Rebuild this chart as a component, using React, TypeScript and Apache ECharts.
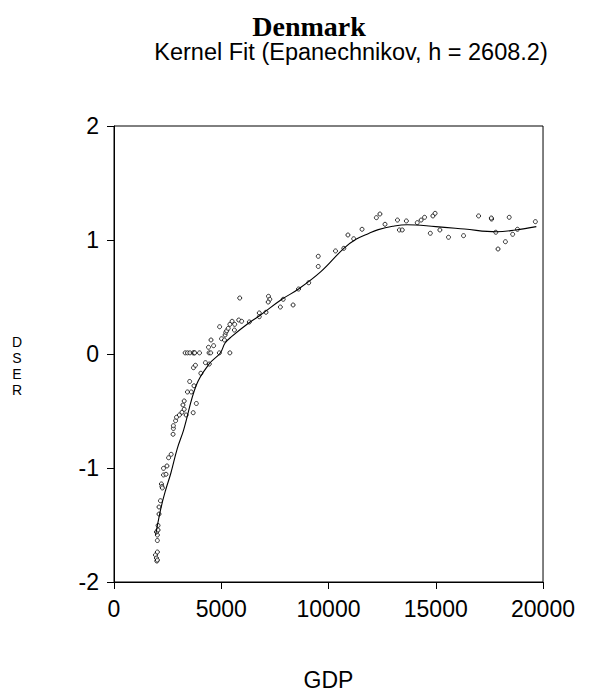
import React, { useEffect, useRef } from "react";
import * as echarts from "echarts";

const titleText = "Denmark";
const subtitleText = "Kernel Fit (Epanechnikov, h = 2608.2)";
const xName = "GDP";
const yName = "DSER";

const xTicks = [0, 5000, 10000, 15000, 20000];
const yTicks = [-2, -1, 0, 1, 2];

// observed points
const gdp = [
  1933, 1978, 1996, 2022, 2022, 2022, 2022, 1978, 2054, 2054, 2098, 2098, 2165, 2210, 2232, 2254,
  2308, 2424, 2308, 2469, 2545, 2665, 2754, 2768, 2768, 2871, 2915, 3049, 3170, 3214, 3272, 3272,
  3362, 3424, 3603, 3527, 3692, 3728, 3839, 4049, 3705, 3795, 4263, 4442,
  3317, 3424, 3540, 3692, 3740, 3763, 3987, 4433, 4509, 4911, 5402,
  4406, 4643, 4522, 4924, 5013, 5147, 5179, 5210, 5254, 5326, 5402, 5504, 5625, 5612, 5817, 5951,
  5862, 6308, 6772, 6772, 7085, 7201, 7263, 7188, 7754, 7888, 8348, 8603, 9076, 9522, 9522,
  10326, 10714, 10906, 11174, 11563, 12232, 12397, 12634, 13214, 13304, 13438, 13629, 14138,
  14317, 14478, 14746, 14866, 14969, 15192, 15594, 16295, 16996, 17603, 17589, 17799, 17902,
  18246, 18424, 18585, 18808, 19643,
];
const dser = [
  -1.763, -1.79, -1.816, -1.807, -1.737, -1.636, -1.588, -1.561, -1.544, -1.504, -1.404, -1.342,
  -1.287, -1.14, -1.162, -1.175, -1.061, -1.055, -1.003, -0.982, -0.91, -0.88, -0.704, -0.653,
  -0.629, -0.585, -0.555, -0.535, -0.511, -0.447, -0.485, -0.412, -0.535, -0.333, -0.333, -0.241,
  -0.515, -0.279, -0.434, -0.169, -0.12, -0.099, -0.076, -0.088,
  0.01, 0.01, 0.01, 0.01, 0.01, 0.01, 0.01, 0.01, 0.01, 0.01, 0.01,
  0.059, 0.073, 0.123, 0.239, 0.134, 0.123, 0.167, 0.19, 0.204, 0.225, 0.26, 0.287, 0.26, 0.21,
  0.298, 0.287, 0.491, 0.281, 0.36, 0.327, 0.366, 0.506, 0.48, 0.456, 0.412, 0.48, 0.43, 0.57,
  0.625, 0.768, 0.857, 0.904, 0.927, 1.044, 1.011, 1.094, 1.196, 1.228, 1.138, 1.175, 1.088,
  1.088, 1.167, 1.152, 1.175, 1.199, 1.059, 1.211, 1.234, 1.088, 1.024, 1.038, 1.211, 1.184,
  1.193, 1.068, 0.921, 0.985, 1.199, 1.05, 1.094, 1.161,
];

// kernel fit curve
const fitGdp = [
  1942, 2202, 2411, 2649, 2946, 3244, 3839, 4433, 4955, 5179, 5478, 6295, 6786, 7826, 8603,
  9643, 10714, 11281, 11875, 12321, 12991, 13661, 15000, 16339, 17826, 18719, 19688,
];
const fitVal = [
  -1.585, -1.34, -1.191, -1.046, -0.832, -0.667, -0.272, -0.088, 0.009, 0.096, 0.152, 0.274,
  0.336, 0.48, 0.57, 0.722, 0.927, 1.006, 1.058, 1.091, 1.12, 1.134, 1.117, 1.096, 1.072, 1.088,
  1.117,
];

export default function App() {
  const ref = useRef<HTMLDivElement>(null);
  useEffect(() => {
    if (!ref.current) return;
    const chart = echarts.init(ref.current, null, { renderer: "svg" });
    const font = "Liberation Sans, Arial, sans-serif";
    chart.setOption({
      animation: false,
      backgroundColor: "#fff",
      title: [
        {
          text: titleText,
          left: 304,
          top: 7,
          textAlign: "center",
          textStyle: { fontFamily: "Liberation Serif, Times New Roman, serif", fontWeight: "bold", fontSize: 28, color: "#000" },
        },
        {
          text: subtitleText,
          left: 346,
          top: 35,
          textAlign: "center",
          textStyle: { fontFamily: font, fontWeight: "normal", fontSize: 23.5, color: "#000" },
        },
      ],
      graphic: [
        {
          type: "text",
          x: 17,
          y: 334,
          style: {
            text: yName.split("").join("\n"),
            font: "14px Liberation Sans, Arial, sans-serif",
            lineHeight: 16,
            fill: "#000",
            align: "center",
            verticalAlign: "top",
          },
        },
      ],
      grid: {
        left: 114,
        right: 578 - 562,
        top: 126,
        bottom: 696 - 583,
        show: true,
        borderColor: "#000",
        borderWidth: 1,
        backgroundColor: "transparent",
      },
      xAxis: {
        type: "value",
        min: xTicks[0],
        max: xTicks[xTicks.length - 1],
        interval: 5000,
        name: xName,
        nameLocation: "middle",
        nameGap: 86,
        nameTextStyle: { fontFamily: font, fontSize: 23, color: "#000" },
        axisLine: { show: true, onZero: false, lineStyle: { color: "#000", width: 1 } },
        axisTick: { show: true, length: 7, inside: false, lineStyle: { color: "#000" } },
        axisLabel: { margin: 15, fontFamily: font, fontSize: 23, color: "#000", formatter: (v: number) => String(v) },
        splitLine: { show: false },
      },
      yAxis: {
        type: "value",
        min: yTicks[0],
        max: yTicks[yTicks.length - 1],
        interval: 1,
        axisLine: { show: true, onZero: false, lineStyle: { color: "#000", width: 1 } },
        axisTick: { show: true, length: 7, inside: false, lineStyle: { color: "#000" } },
        axisLabel: { margin: 15, fontFamily: font, fontSize: 23, color: "#000", formatter: (v: number) => String(v) },
        splitLine: { show: false },
      },
      series: [
        {
          type: "scatter",
          data: gdp.map((g, i) => [g, dser[i]]),
          symbol: "circle",
          symbolSize: 4,
          itemStyle: { color: "#fff", borderColor: "#000", borderWidth: 1 },
          z: 2,
        },
        {
          type: "line",
          data: fitGdp.map((g, i) => [g, fitVal[i]]),
          smooth: 0.4,
          showSymbol: false,
          symbol: "none",
          lineStyle: { color: "#000", width: 1.1 },
          z: 3,
        },
      ],
    });
    return () => chart.dispose();
  }, []);
  return (
    <div
      ref={ref}
      style={{ position: "absolute", left: 0, top: 0, width: 578, height: 696, overflow: "hidden", background: "#fff" }}
    />
  );
}
